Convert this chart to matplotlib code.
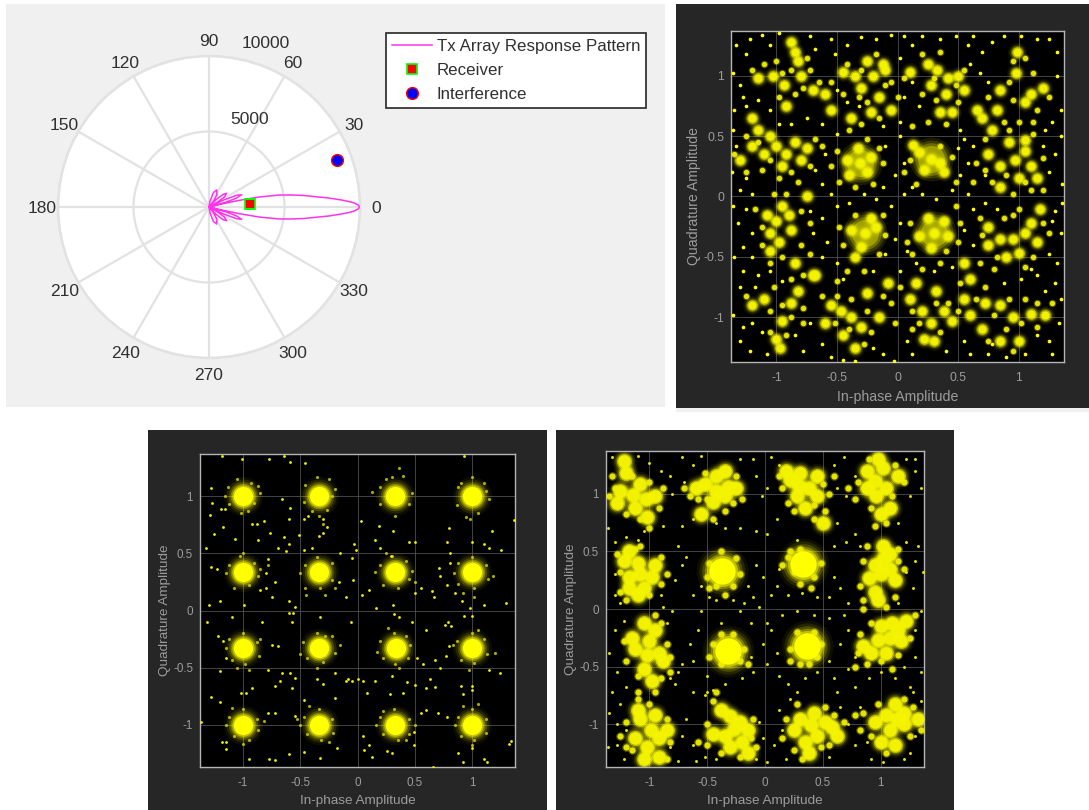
import numpy as np
import matplotlib
matplotlib.use("Agg")
import matplotlib.pyplot as plt
from matplotlib.patches import Rectangle

plt.rcParams['font.family'] = ['Liberation Sans', 'DejaVu Sans']

# ---------- polar pattern ----------
pattern_deg = [-95,-85,-80,-73,-65.6,-57,-52,-49,-46,-42,-37.8,-33,-30,-27.5,-25.5,-23,-20.5,-18,-16,-14.5,-13.5,-12.5,-11.3,-9.7,-8.3,-6.9,-5.5,-4.3,-3,-2.2,-1.5,-0.7,
               0,0.7,1.5,2.2,3,4.3,5.5,6.9,8.3,9.7,11.3,12.5,13.5,14.5,16,18,20.5,23,25.5,27.5,30,33,37.8,42,46,49,52,57,65.6,73,80,85,95]
pattern_val = [0,60,400,1000,1240,950,500,100,700,1250,1480,1200,700,100,1100,2000,2310,1900,1200,100,800,2000,3380,4700,5500,6340,7100,7950,8800,9300,9650,9900,
               9960,9900,9650,9300,8800,7950,7100,6340,5500,4700,3380,2000,800,100,1200,1900,2310,2000,1100,100,700,1200,1480,1250,700,100,500,950,1240,1000,400,60,0]
theta_ticks = [0,30,60,90,120,150,180,210,240,270,300,330]
r_ticks = [5000,10000]
receiver_deg, receiver_r = 4.0, 2740
interf_deg, interf_r = 20.0, 9030
legend_labels = ['Tx Array Response Pattern','Receiver','Interference']

# ---------- constellation ticks ----------
iq_ticks = [-1,-0.5,0,0.5,1]
iq_tick_labels = ['-1','-0.5','0','0.5','1']
x_title = 'In-phase Amplitude'
y_title = 'Quadrature Amplitude'

# ---------- panel A (top right): hand-read dense patches and single points ----------
a_bright = [(-0.31,0.28),(0.28,0.31),(-0.27,-0.30),(0.30,-0.30)]
a_patch = [(-0.31,0.28),(-0.40,0.18),(-0.22,0.33),(-0.33,0.40),(-0.42,0.30),(-0.25,0.20),
 (0.28,0.31),(0.18,0.37),(0.35,0.28),(0.22,0.22),(0.13,0.43),(0.38,0.20),
 (-0.27,-0.30),(-0.38,-0.28),(-0.18,-0.25),(-0.30,-0.42),(-0.22,-0.18),(-0.35,-0.50),
 (0.30,-0.30),(0.18,-0.33),(0.38,-0.20),(0.28,-0.43),(0.42,-0.33),(0.25,-0.18),
 (-1.15,0.98),(-1.03,1.0),(-0.94,0.92),(-0.85,1.2),(-0.82,1.12),(-0.92,0.75),(-0.8,1.0),(-0.7,0.88),(-0.6,0.85),(-0.88,1.28),
 (-0.45,1.03),(-0.35,1.0),(-0.25,1.12),(-0.2,1.0),(-0.12,1.1),(-0.3,0.9),(-0.15,0.82),(-0.05,0.72),(-0.22,0.7),(-0.1,1.05),(-0.38,0.65),(-0.55,0.72),
 (0.25,1.1),(0.33,1.05),(0.42,0.98),(0.5,1.0),(0.28,0.92),(0.4,0.85),(0.1,1.03),(0.45,0.7),(0.35,0.7),(0.55,0.88),
 (0.99,1.2),(0.98,1.02),(0.85,0.88),(1.1,0.85),(1.2,0.9),(0.7,0.65),(0.82,0.72),(1.05,0.78),(0.66,0.72),(0.78,0.55),
 (-1.2,0.42),(-1.1,0.35),(-1.0,0.42),(-0.92,0.35),(-0.85,0.45),(-0.8,0.3),(-0.95,0.25),(-1.05,0.5),(-0.75,0.4),(-1.3,0.3),(-1.15,0.55),(-1.2,0.65),
 (0.85,0.25),(0.97,0.3),(1.05,0.38),(1.1,0.25),(1.0,0.15),(0.85,0.08),(1.05,0.47),(0.92,0.45),(1.15,0.15),(0.75,0.35),
 (-1.08,-0.15),(-1.0,-0.2),(-1.05,-0.3),(-0.95,-0.08),(-0.88,-0.28),(-1.05,-0.45),(-0.98,-0.38),(-0.9,-0.15),(-0.75,0.0),(-0.85,-0.55),(-0.68,-0.65),
 (0.85,-0.35),(0.95,-0.35),(1.05,-0.3),(1.1,-0.22),(0.9,-0.5),(1.0,-0.47),(0.75,-0.4),(0.75,-0.25),(1.15,-0.38),(0.55,-0.55),(0.6,-0.68),(1.18,-0.1),
 (-1.2,-0.9),(-1.1,-0.85),(-0.88,-0.88),(-0.82,-0.78),(-0.95,-1.03),(-1.0,-1.18),(-0.97,-1.25),(-0.7,-0.65),
 (-0.55,-0.9),(-0.47,-0.95),(-0.38,-1.0),(-0.3,-1.08),(-0.45,-1.15),(-0.25,-0.8),(-0.15,-1.0),(-0.35,-1.25),(-0.08,-0.72),(-0.6,-1.05),
 (0.1,-0.85),(0.2,-0.95),(0.28,-1.05),(0.38,-0.95),(0.45,-1.03),(0.22,-1.18),(0.3,-1.2),(0.32,-0.78),(0.55,-0.85),(0.15,-0.72),
 (0.85,-0.9),(0.95,-1.0),(1.1,-0.97),(1.22,-0.98),(0.85,-1.2),(1.0,-1.2),(0.72,-0.88),(0.6,-0.98),(0.7,-1.1)]
a_mid = [(-1.2,1.05),(-1.1,1.1),(-1.0,1.12),(-0.95,1.02),(-0.88,1.05),(-0.75,1.15),(-0.85,0.85),(-0.78,0.9),(-0.98,0.82),(-0.72,1.05),(-0.65,0.95),(-0.55,0.95),
 (-0.42,1.1),(-0.3,1.05),(-0.18,1.18),(-0.05,0.95),(-0.32,0.82),(-0.1,0.92),(-0.45,0.85),(-0.25,0.78),(0.0,0.82),(-0.15,0.65),(-0.4,0.55),(-0.3,0.6),
 (0.2,1.18),(0.35,1.2),(0.3,0.98),(0.48,0.92),(0.2,0.85),(0.32,0.8),(0.5,0.78),(0.05,0.98),(0.55,1.05),(0.25,0.62),(0.4,0.6),(0.12,0.58),
 (0.95,1.12),(1.05,1.15),(0.92,0.95),(1.12,1.02),(0.95,0.8),(1.15,0.72),(1.25,0.82),(0.75,0.82),(0.88,0.62),(1.0,0.62),(0.72,0.48),(1.12,0.62),
 (-1.25,0.5),(-1.15,0.45),(-1.05,0.3),(-1.12,0.22),(-0.98,0.15),(-0.88,0.2),(-0.82,0.12),(-0.72,0.25),(-0.68,0.48),(-1.25,0.2),(-1.35,0.35),(-0.62,0.42),
 (-0.55,0.25),(-0.5,0.38),(-0.48,0.12),(-0.35,0.08),(-0.2,0.1),(-0.12,0.28),(-0.15,0.4),(-0.25,0.48),(0.1,0.3),(0.05,0.2),(0.15,0.1),(0.35,0.42),(0.45,0.33),(0.48,0.12),
 (0.72,0.22),(0.78,0.12),(0.9,0.18),(1.1,0.05),(1.05,0.12),(0.95,0.02),(1.2,0.32),(1.2,0.05),(0.92,0.55),(1.12,0.52),(0.62,0.12),(0.65,0.28),
 (-1.18,-0.1),(-1.12,-0.25),(-1.12,-0.4),(-1.05,-0.55),(-0.95,-0.5),(-0.8,-0.4),(-0.8,-0.12),(-0.72,-0.22),(-0.92,0.02),(-1.02,0.02),(-0.72,-0.48),(-0.78,-0.65),(-0.88,-0.68),
 (-0.48,-0.25),(-0.45,-0.4),(-0.1,-0.32),(-0.12,-0.15),(-0.28,-0.62),(-0.15,-0.48),(-0.42,-0.62),(-0.35,-0.15),(0.1,-0.22),(0.08,-0.38),(0.12,-0.48),(0.4,-0.45),(0.52,-0.22),(0.5,-0.38),(0.35,-0.55),(0.2,-0.6),(0.48,-0.08),
 (0.68,-0.18),(0.7,-0.32),(0.68,-0.55),(0.82,-0.5),(0.8,-0.6),(0.95,-0.15),(0.88,-0.18),(1.0,-0.1),(1.12,-0.5),(1.25,-0.3),(1.2,-0.22),(1.05,-0.58),
 (-1.25,-0.82),(-1.05,-0.95),(-0.95,-0.9),(-0.78,-0.92),(-0.88,-1.0),(-1.05,-1.12),(-0.92,-1.15),(-0.78,-1.05),(-1.02,-0.75),
 (-0.62,-0.82),(-0.5,-0.82),(-0.52,-1.05),(-0.38,-0.85),(-0.25,-0.95),(-0.4,-1.1),(-0.22,-1.12),(-0.28,-1.22),(-0.05,-0.88),(-0.02,-1.05),(-0.12,-0.82),(-0.5,-0.7),
 (0.02,-0.75),(0.18,-1.05),(0.12,-0.95),(0.32,-0.88),(0.42,-0.88),(0.35,-1.12),(0.12,-1.1),(0.5,-0.95),(0.52,-0.72),(0.65,-0.85),(0.72,-0.75),
 (0.8,-0.98),(0.92,-0.85),(1.05,-0.85),(1.02,-1.05),(1.15,-0.88),(0.9,-1.1),(0.75,-1.2),(1.15,-1.08),(1.28,-0.88),(0.95,-1.28)]
a_dots = [(-1.33,1.25),(-1.25,1.18),(-1.22,1.3),(-1.12,1.34),(-1.05,1.25),(-0.98,1.35),(-0.72,1.33),(-0.68,1.22),(-0.55,1.3),(-0.52,1.18),(-0.42,1.25),(-0.3,1.32),(-0.18,1.3),(-0.05,1.34),(0.05,1.33),(0.12,1.25),(0.2,1.33),(0.35,1.3),(0.48,1.33),(0.58,1.25),(0.62,1.33),(0.7,1.2),(0.78,1.28),(0.88,1.33),(1.02,1.33),(1.15,1.3),(1.25,1.3),(1.32,1.2),
 (-1.36,1.02),(-1.3,0.92),(-1.28,0.82),(-1.35,0.72),(-1.25,0.75),(-1.15,0.8),(-1.05,0.72),(-0.98,0.6),(-0.88,0.6),(-0.75,0.65),(-0.62,0.6),(-0.5,0.52),(-0.42,0.78),(-0.5,0.88),(-0.32,0.75),(-0.12,0.58),(0.02,0.62),(0.05,0.82),(0.18,0.75),(0.12,0.95),(0.02,1.15),(0.52,0.55),(0.6,1.1),(0.68,1.02),(0.75,0.95),(0.62,0.42),(0.55,0.48),(0.72,0.18),(1.32,1.0),(1.35,0.72),(1.28,0.62),(1.22,0.55),(1.35,0.5),(1.2,0.42),(1.3,0.35),(1.25,0.2),(1.36,0.1),
 (-1.36,0.55),(-1.33,0.42),(-1.37,0.2),(-1.25,0.15),(-1.3,0.05),(-1.2,0.02),(-1.36,-0.08),(-1.25,-0.1),(-1.32,-0.22),(-1.2,-0.3),(-1.28,-0.42),(-1.35,-0.5),(-1.2,-0.5),(-1.28,-0.62),(-1.15,-0.65),(-1.05,-0.62),(-0.95,-0.7),(-1.3,-0.75),(-1.18,-0.75),(-1.36,-0.98),(-1.28,-1.08),(-1.2,-1.05),(-1.3,-1.2),(-1.22,-1.28),(-1.12,-1.12),(-1.08,-1.3),(-0.85,-1.15),(-0.78,-1.28),(-0.72,-1.05),(-0.62,-1.22),(-0.55,-1.33),(-0.45,-1.35),(-0.35,-1.36),(-0.2,-1.25),(-0.12,-1.3),(-0.03,-1.36),(0.08,-1.2),(0.12,-1.3),(0.4,-1.28),(0.55,-1.2),(0.6,-1.3),(0.75,-1.3),(0.78,-1.22),(0.9,-1.33),(1.05,-1.3),(1.15,-1.15),(1.25,-1.2),(1.28,-1.3),(1.33,-1.05),(1.35,-0.85),(1.3,-0.72),(1.22,-0.78),(1.15,-0.65),(1.32,-0.55),(1.25,-0.48),(1.35,-0.3),(1.28,-0.2),(1.36,-0.05),(1.3,-0.12),
 (-0.6,0.35),(-0.68,0.22),(-0.62,0.1),(-0.55,0.02),(-0.5,-0.08),(-0.62,-0.18),(-0.7,-0.3),(-0.58,-0.38),(-0.5,-0.55),(-0.62,-0.5),(-0.45,-0.68),(-0.2,-0.62),(-0.1,-0.48),(-0.02,-0.35),(0.02,-0.22),(-0.05,-0.08),(0.05,0.02),(-0.12,0.08),(-0.02,0.18),(0.05,0.28),(-0.1,0.42),(0.02,0.5),(0.12,0.08),(0.2,0.02),(0.32,-0.02),(0.45,0.05),(0.52,0.18),(0.58,0.28),(0.5,0.4),(0.58,0.02),(0.62,-0.1),(0.55,-0.28),(0.62,-0.4),(0.45,-0.58),(0.3,-0.62),(0.15,-0.55),(0.02,-0.62),(0.08,-0.45),(-0.28,0.02),(-0.4,-0.05),(-0.18,-0.02),(-0.72,-0.12),(0.72,-0.05),(0.82,-0.1),(0.88,-0.72),(1.02,-0.68),(1.1,-0.6)]

# ---------- panel B (bottom left): cluster centres, halo points, strays ----------
b_core = [(-1.0,1.0),(-0.34,1.0),(0.33,1.0),(1.0,1.0),(-1.0,0.34),(-0.34,0.34),(0.33,0.34),(1.0,0.34),
 (-1.0,-0.33),(-0.34,-0.33),(0.34,-0.33),(1.0,-0.33),(-1.0,-1.0),(-0.34,-1.0),(0.33,-1.0),(1.0,-1.0)]
b_halo = [(-1.13,1.08),(-0.87,1.09),(-1.05,1.15),(-0.9,0.94),(-1.12,0.93),(-0.96,0.87),(-1.02,0.85),(-0.85,1.03),(-1.16,1.0),(-0.93,1.12),
 (-0.46,1.1),(-0.35,1.17),(-0.25,1.15),(-0.22,1.0),(-0.27,0.88),(-0.4,0.87),(-0.47,0.95),(-0.34,0.83),(-0.3,0.76),(-0.2,1.06),
 (0.2,1.08),(0.3,1.17),(0.4,1.18),(0.48,1.03),(0.45,0.93),(0.33,0.83),(0.2,0.93),(0.13,1.04),(0.36,1.25),(0.25,1.15),
 (0.88,1.08),(1.0,1.17),(1.12,1.05),(1.15,0.98),(1.05,0.85),(0.95,0.82),(0.87,0.92),(0.98,0.8),(0.9,1.12),(1.1,1.12),
 (-1.12,0.4),(-1.03,0.48),(-0.9,0.42),(-0.87,0.3),(-0.95,0.22),(-1.08,0.2),(-1.15,0.33),(-0.85,0.36),(-1.0,0.5),(-0.78,0.4),
 (-0.46,0.4),(-0.35,0.47),(-0.22,0.42),(-0.22,0.27),(-0.33,0.2),(-0.46,0.2),(-0.5,0.33),(-0.28,0.14),(-0.45,0.14),(-0.2,0.2),
 (0.2,0.4),(0.3,0.48),(0.42,0.43),(0.45,0.28),(0.35,0.2),(0.22,0.22),(0.15,0.34),(0.48,0.35),(0.25,0.5),(0.5,0.25),
 (0.88,0.42),(1.0,0.47),(1.12,0.4),(1.14,0.28),(1.02,0.2),(0.88,0.23),(0.84,0.33),(1.02,0.12),(0.92,0.15),(1.18,0.3),
 (-1.12,-0.25),(-1.0,-0.2),(-0.88,-0.28),(-0.86,-0.4),(-0.98,-0.47),(-1.1,-0.43),(-1.15,-0.33),(-0.95,-0.52),(-1.05,-0.5),(-0.85,-0.25),
 (-0.48,-0.28),(-0.35,-0.2),(-0.22,-0.22),(-0.2,-0.37),(-0.3,-0.45),(-0.44,-0.42),(-0.5,-0.38),(-0.15,-0.3),(-0.28,-0.22),(-0.35,-0.5),
 (0.2,-0.27),(0.32,-0.2),(0.46,-0.3),(0.44,-0.42),(0.33,-0.47),(0.22,-0.42),(0.17,-0.36),(0.36,-0.5),(0.42,-0.22),(0.27,-0.15),
 (0.87,-0.27),(1.0,-0.2),(1.1,-0.25),(1.13,-0.38),(1.02,-0.46),(0.9,-0.43),(0.83,-0.3),(0.97,-0.52),(1.2,-0.37),(1.05,-0.17),
 (-1.12,-0.93),(-1.0,-0.86),(-0.88,-0.95),(-0.87,-1.05),(-0.95,-1.13),(-1.08,-1.1),(-1.15,-1.0),(-1.1,-0.85),(-1.0,-1.17),(-0.82,-0.97),
 (-0.47,-0.93),(-0.34,-0.86),(-0.22,-0.95),(-0.21,-1.07),(-0.32,-1.13),(-0.44,-1.08),(-0.5,-1.0),(-0.42,-0.84),(-0.25,-1.15),(-0.53,-0.95),
 (0.2,-0.93),(0.32,-0.86),(0.45,-0.95),(0.45,-1.08),(0.35,-1.13),(0.22,-1.08),(0.16,-1.0),(0.22,-0.88),(0.42,-1.13),(0.5,-1.0),
 (0.88,-0.93),(1.0,-0.86),(1.12,-0.95),(1.12,-1.07),(1.02,-1.13),(0.9,-1.1),(0.85,-1.0),(0.92,-0.84),(1.05,-0.82),(1.0,-1.18)]
b_stray = [(-1.18,1.35),(-1.01,1.33),(-0.77,1.33),(-0.64,1.35),(-0.59,1.30),(-0.46,1.29),(0.93,1.35),(-1.28,1.07),(-1.27,0.94),(-1.29,0.84),(-1.19,0.89),(-1.16,0.89),(-1.17,0.73),(-1.25,0.67),(-1.07,0.63),
 (-0.92,0.76),(-0.88,0.76),(-0.87,0.62),(-0.82,0.78),(-0.76,0.68),(-0.69,0.55),(-0.64,0.64),(-0.6,0.58),(-0.62,0.52),(-0.51,0.66),(-0.34,0.65),(-0.3,0.68),(-0.27,0.73),(-0.3,0.8),(-0.47,0.8),(-0.43,0.83),(-0.59,0.9),(-0.66,0.98),
 (-0.6,0.8),(-1.32,0.55),(-1.28,0.38),(-1.23,0.36),(-0.78,0.45),(-0.8,0.33),(-0.72,0.25),(-0.85,0.18),(-0.8,0.2),(-0.75,0.12),(-1.2,0.08),(-1.3,0.05),(-0.99,0.05),(-0.6,0.08),(-0.55,0.03),(-0.6,-0.02),(-0.56,-0.02),
 (-0.47,0.53),(-0.4,0.55),(-0.15,0.5),(-0.05,0.46),(-0.01,0.53),(-0.03,0.58),(0.15,0.62),(0.2,0.55),(0.29,0.48),(0.45,0.6),(0.5,0.6),(0.31,0.7),(0.19,0.74),(0.03,0.78),(-0.16,0.25),(-0.1,0.12),(-0.04,0.27),(0.04,0.14),(0.1,0.18),(0.16,0.02),(0.31,0.05),(0.55,0.2),(0.5,0.15),(0.65,0.17),
 (0.67,0.12),(0.78,0.6),(0.8,0.72),(0.81,0.5),(0.81,0.42),(0.71,0.37),(0.72,0.3),(0.78,0.22),(0.85,0.15),(0.91,0.08),(1.0,0.6),(1.1,0.58),(1.15,0.55),(1.17,0.7),(1.25,0.53),(1.37,0.79),(1.3,0.07),(1.1,0.05),(0.98,0.02),(1.0,-0.05),(0.93,-0.05),(0.79,-0.1),(0.76,-0.13),(0.82,-0.14),
 (-1.31,-0.1),(-1.1,-0.06),(-1.22,-0.22),(-1.17,-0.27),(-1.15,-0.42),(-1.2,-0.53),(-0.83,-0.1),(-0.75,-0.3),(-0.69,-0.31),(-0.78,-0.52),(-0.66,-0.55),(-0.59,-0.55),(-0.55,-0.59),(-0.68,-0.62),(-0.72,-0.66),(-0.57,-0.68),(-0.47,-0.78),(-0.35,-0.6),(-0.3,-0.64),(-0.2,-0.55),(-0.1,-0.62),
 (-0.05,-0.62),(-0.08,-0.6),(0.0,-0.6),(0.05,-0.62),(-0.06,-0.1),(-0.57,-0.1),(-0.33,-0.06),(0.32,-0.03),(0.36,-0.06),(0.48,-0.1),(0.6,-0.17),(0.52,-0.42),(0.57,-0.47),(0.68,-0.43),(0.72,-0.5),(0.77,-0.4),(0.8,-0.31),(1.15,-0.52),(1.24,-0.55),
 (0.63,-0.6),(0.68,-0.67),(0.6,-0.68),(0.5,-0.65),(0.43,-0.63),(0.3,-0.57),(0.15,-0.62),(0.08,-0.72),(0.28,-0.73),(0.4,-0.72),(0.9,-0.66),(0.92,-0.73),(1.0,-0.66),(1.0,-0.7),
 (-1.37,-0.98),(-1.28,-0.76),(-1.2,-0.8),(-1.18,-1.15),(-1.15,-1.15),(-1.15,-1.21),(-1.02,-0.72),(-0.97,-0.72),(-0.92,-0.68),(-0.72,-0.9),(-0.78,-0.9),(-0.95,-1.3),(-0.77,-1.3),(-0.72,-1.31),(-0.6,-1.26),(-0.47,-1.24),(-0.33,-1.29),(-0.55,-0.92),(-0.2,-0.77),(-0.18,-1.2),
 (0.05,-1.1),(0.06,-1.22),(0.1,-1.18),(0.13,-1.28),(0.26,-1.23),(0.3,-1.25),(0.49,-1.18),(0.49,-1.06),(0.55,-0.9),(0.6,-0.87),(0.7,-0.9),(0.78,-0.93),(0.66,-1.37),(1.0,-1.2),(0.88,-1.25),(0.92,-1.33),(1.1,-1.3),(1.13,-1.33),(1.34,-1.14),(1.32,-1.17)]

# ---------- panel C (bottom right): dense patches and single points ----------
c_core = [(-0.37,0.33),(0.33,0.39),(-0.32,-0.36),(0.36,-0.32)]
c_patch = [(-1.14,0.99),(-1.25,1.02),(-1.03,0.95),(-1.08,1.08),(-1.2,1.18),(-1.12,0.88),(-1.28,0.92),(-0.95,0.98),(-1.22,1.28),(-1.02,0.8),
 (-0.42,1.02),(-0.52,1.08),(-0.35,0.98),(-0.42,1.15),(-0.35,1.2),(-0.45,0.93),(-0.6,1.05),(-0.32,1.06),(-0.55,0.82),(-0.25,1.05),
 (0.29,1.07),(0.22,1.12),(0.28,0.98),(0.38,1.05),(0.3,1.18),(0.18,1.2),(0.45,0.98),(0.35,0.88),(0.45,1.15),(0.5,0.75),
 (0.95,1.11),(0.88,1.2),(1.02,1.22),(0.96,0.98),(1.05,1.05),(1.08,0.88),(0.98,1.3),(0.88,1.05),(1.15,1.15),(1.0,0.82),
 (-1.08,0.30),(-1.18,0.28),(-0.98,0.28),(-1.1,0.4),(-1.18,0.18),(-1.05,0.18),(-0.95,0.38),(-1.22,0.42),(-1.1,0.12),(-1.18,0.5),
 (1.02,0.43),(0.95,0.38),(1.08,0.48),(1.0,0.3),(0.9,0.27),(1.08,0.35),(1.02,0.55),(0.95,0.15),(1.12,0.25),(0.98,0.08),
 (-1.02,-0.40),(-1.12,-0.35),(-0.92,-0.38),(-1.0,-0.28),(-1.05,-0.52),(-0.98,-0.62),(-1.15,-0.25),(-0.95,-0.18),(-0.88,-0.45),(-1.05,-0.12),
 (1.08,-0.25),(0.98,-0.27),(1.15,-0.18),(1.05,-0.38),(0.92,-0.38),(1.22,-0.1),(1.1,-0.12),(1.0,-0.15),(1.18,-0.28),(0.85,-0.32),
 (-0.99,-1.05),(-1.08,-0.95),(-0.95,-0.92),(-0.92,-1.12),(-1.02,-1.2),(-1.05,-1.3),(-1.12,-1.12),(-0.85,-1.05),(-1.1,-0.88),(-0.92,-1.28),
 (-0.27,-1.04),(-0.35,-1.1),(-0.22,-0.98),(-0.3,-0.93),(-0.2,-1.15),(-0.3,-1.2),(-0.45,-1.08),(-0.15,-1.05),(-0.15,-1.25),(-0.38,-0.88),
 (0.40,-1.01),(0.3,-0.95),(0.45,-1.1),(0.52,-0.98),(0.35,-1.15),(0.42,-0.9),(0.58,-1.02),(0.25,-1.05),(0.38,-1.25),(0.62,-1.1),
 (1.14,-0.95),(1.05,-0.92),(0.95,-0.98),(1.2,-1.0),(1.08,-1.05),(1.2,-0.9),(1.0,-1.15),(1.12,-0.82),(1.32,-0.95),(1.12,-1.18)]
c_mid = [(-1.32,1.15),(-1.3,1.05),(-1.15,1.15),(-1.0,1.1),(-0.88,1.05),(-1.35,0.98),(-1.2,0.82),(-1.08,0.78),(-0.92,0.88),(-1.0,0.7),
 (-0.58,0.95),(-0.65,0.98),(-0.5,0.95),(-0.28,0.92),(-0.25,1.15),(-0.35,0.85),(-0.45,0.78),(-0.52,1.18),(-0.2,0.95),(-0.7,1.05),
 (0.15,1.05),(0.12,1.15),(0.2,0.92),(0.42,0.9),(0.5,1.08),(0.55,1.0),(0.42,0.78),(0.52,0.85),(0.6,1.15),(0.25,0.85),
 (0.8,1.1),(0.78,0.95),(0.92,0.88),(1.1,0.98),(1.12,1.25),(1.2,1.1),(0.9,1.3),(1.05,0.75),(0.95,0.72),(0.72,1.05),
 (-1.25,0.32),(-1.28,0.48),(-1.25,0.15),(-0.9,0.22),(-0.85,0.3),(-1.0,0.12),(-1.12,0.52),(-1.08,0.55),(-0.9,0.45),(-1.2,0.08),
 (-0.48,0.4),(-0.5,0.28),(-0.42,0.2),(-0.28,0.2),(-0.22,0.3),(-0.25,0.44),(-0.38,0.5),(-0.48,0.18),(-0.35,0.12),
 (0.2,0.45),(0.25,0.32),(0.22,0.5),(0.42,0.28),(0.48,0.4),(0.3,0.22),(0.4,0.18),(0.15,0.38),(0.3,0.52),
 (0.85,0.42),(0.82,0.2),(0.85,0.08),(1.15,0.42),(1.2,0.35),(1.12,0.1),(0.88,0.55),(1.15,0.52),(0.85,0.0),(1.05,0.02),
 (-1.2,-0.45),(-1.22,-0.28),(-0.85,-0.3),(-0.82,-0.42),(-0.9,-0.6),(-1.1,-0.58),(-0.82,-0.55),(-0.9,-0.12),(-0.95,-0.05),(-1.1,-0.72),
 (-0.45,-0.3),(-0.48,-0.42),(-0.38,-0.48),(-0.22,-0.45),(-0.18,-0.35),(-0.28,-0.22),(-0.38,-0.22),(-0.15,-0.48),
 (0.22,-0.35),(0.28,-0.2),(0.42,-0.2),(0.48,-0.3),(0.45,-0.42),(0.3,-0.48),(0.38,-0.48),(0.22,-0.45),
 (0.82,-0.22),(0.8,-0.38),(0.88,-0.48),(1.0,-0.45),(1.15,-0.4),(1.25,-0.25),(1.3,-0.05),(0.92,-0.12),(0.78,-0.5),(1.1,-0.52),
 (-1.25,-1.1),(-1.2,-0.98),(-1.0,-0.82),(-0.85,-0.95),(-0.82,-1.15),(-1.15,-1.22),(-1.1,-0.78),(-0.95,-0.72),(-1.2,-1.2),(-0.85,-1.3),
 (-0.5,-1.0),(-0.5,-1.18),(-0.38,-1.25),(-0.45,-0.8),(-0.1,-0.95),(-0.12,-1.12),(-0.22,-1.28),(-0.08,-1.2),(-0.42,-0.72),(-0.58,-1.15),
 (0.18,-0.95),(0.15,-1.12),(0.28,-0.82),(0.52,-0.85),(0.6,-0.92),(0.68,-0.98),(0.48,-1.2),(0.25,-1.22),(0.55,-1.18),(0.32,-1.3),
 (0.85,-0.9),(0.82,-1.05),(0.92,-1.1),(0.98,-0.82),(1.28,-0.85),(1.35,-1.05),(1.25,-1.1),(1.05,-1.25),(1.2,-0.78),(0.78,-0.92)]
c_dots = [(-1.32,1.32),(-1.1,1.33),(-1.0,1.27),(-0.9,1.2),(-0.82,1.15),(-0.8,1.0),(-0.72,1.32),(-0.62,1.25),(-0.55,1.33),(-0.7,1.1),(-0.22,1.3),(-0.1,1.3),(-0.08,1.15),(-0.03,0.98),(0.02,1.05),(0.05,1.32),(0.12,1.25),(0.6,1.25),(0.62,1.05),(0.68,1.32),(0.7,0.98),(0.78,1.15),(1.22,1.3),(1.3,1.2),(1.35,1.05),(1.3,1.3),(1.25,0.98),(1.15,0.75),
 (-1.36,0.7),(-1.3,0.58),(-1.2,0.62),(-1.1,0.6),(-1.05,0.68),(-0.88,0.72),(-0.72,0.72),(-0.62,0.78),(-0.42,0.75),(-0.35,0.7),(-0.22,0.7),(-0.08,0.68),(0.02,0.65),(0.1,0.78),(0.28,0.6),(0.48,0.7),(0.62,0.75),(0.6,0.55),(0.7,0.58),(0.78,0.65),(0.82,0.55),(1.22,0.58),(1.32,0.55),(1.3,0.42),(1.37,0.32),(1.22,0.32),(1.28,0.18),(1.15,0.05),
 (-1.3,0.3),(-1.3,0.12),(-1.25,0.05),(-0.9,0.12),(-0.88,0.02),(-0.8,-0.02),(-0.85,-0.12),(-0.78,0.25),(-0.72,0.38),(-0.68,0.45),(-0.75,0.55),(-0.62,0.12),(-0.55,0.2),(-0.48,0.1),(-0.55,-0.02),(-0.42,0.08),(-0.28,0.08),(-0.18,0.05),(-0.1,0.1),(-0.05,0.02),(-0.15,0.2),(-0.08,0.38),(-0.02,0.28),(0.05,0.12),(0.1,0.2),(0.12,0.35),(0.2,0.12),(0.32,0.14),(0.45,0.1),(0.55,0.1),(0.6,0.28),(0.65,0.18),(0.72,0.05),(0.68,-0.05),(0.55,-0.08),(0.42,-0.05),(0.28,-0.02),(0.15,-0.05),(0.02,-0.12),(-0.12,-0.12),(-0.22,-0.02),(-0.38,-0.12),
 (-1.3,-0.18),(-1.22,-0.1),(-1.35,-0.38),(-1.28,-0.55),(-1.32,-0.72),(-1.25,-0.82),(-1.2,-0.68),(-0.82,-0.6),(-0.78,-0.65),(-0.75,-0.55),(-0.72,-0.48),(-0.65,-0.3),(-0.62,-0.45),(-0.58,-0.18),(-0.5,-0.58),(-0.62,-0.72),(-0.52,-0.75),(-0.45,-0.7),(-0.35,-0.65),(-0.2,-0.6),(-0.1,-0.55),(-0.12,-0.42),(-0.02,-0.3),(0.05,-0.18),(0.02,-0.48),(0.1,-0.38),(0.12,-0.58),(0.2,-0.65),(0.28,-0.72),(0.35,-0.6),(0.45,-0.55),(0.55,-0.45),(0.6,-0.6),(0.65,-0.3),(0.72,-0.18),(0.78,-0.42),(0.72,-0.52),(0.62,-0.72),(0.78,-0.68),(0.9,-0.6),(1.0,-0.55),(1.12,-0.6),(1.2,-0.5),(1.3,-0.42),(1.35,-0.55),(1.25,-0.68),(1.3,-0.18),(1.35,-0.02),
 (-1.35,-0.9),(-1.28,-1.0),(-1.36,-1.2),(-1.28,-1.18),(-1.2,-1.05),(-1.22,-1.3),(-0.82,-1.2),(-0.75,-1.32),(-0.72,-1.1),(-0.68,-0.95),(-0.62,-1.18),(-0.6,-1.32),(-0.52,-1.28),(-0.5,-0.72),(-0.42,-1.3),(-0.05,-0.98),(-0.02,-1.12),(-0.08,-1.3),(0.02,-1.33),(0.08,-1.18),(0.12,-0.88),(0.18,-1.3),(0.15,-1.05),(0.22,-0.78),(0.55,-1.28),(0.65,-0.85),(0.72,-1.0),(0.78,-1.18),(0.82,-0.85),(0.88,-1.15),(0.92,-1.3),(1.02,-1.33),(1.25,-1.25),(1.2,-1.3),(1.3,-1.1),(1.35,-0.8),(1.28,-0.72)]

FIG_W, FIG_H = 1089, 810
DARK = '#262626'
TXT = '#9c9c9c'
INK = '#303030'
YEL = '#ffff00'

fig = plt.figure(figsize=(FIG_W/100, FIG_H/100), dpi=100, facecolor='white')

def frac_rect(l, t, r, b):
    return [l/FIG_W, 1-b/FIG_H, (r-l)/FIG_W, (b-t)/FIG_H]

def panel_bg(l, t, r, b, colour):
    x, y, w, h = frac_rect(l, t, r, b)
    fig.add_artist(Rectangle((x, y), w, h, transform=fig.transFigure, facecolor=colour, edgecolor='none', zorder=-5))

panel_bg(6, 4, 665, 407, '#f0f0f0')
panel_bg(676, 4, 1089, 408, DARK)
panel_bg(676, 408, 1089, 412, '#f0f0f0')
panel_bg(148, 430, 547, 810, DARK)
panel_bg(556, 430, 954, 810, DARK)

# ---------- polar ----------
ax = fig.add_axes(frac_rect(58, 56, 360, 358), projection='polar', facecolor='white')
ax.set_rlim(0, 10000)
ax.set_thetagrids(theta_ticks, [str(t) for t in theta_ticks], fontsize=12.5, color=INK)
ax.set_rticks(r_ticks)
ax.set_yticklabels([])
ax.grid(True, color='#e2e2e2', lw=1.6)
ax.spines['polar'].set_color('#e2e2e2')
ax.spines['polar'].set_linewidth(1.8)
ax.tick_params(axis='x', pad=1)
for lab in ax.get_xticklabels():
    lab.set_verticalalignment('center_baseline')
l1, = ax.plot(np.deg2rad(pattern_deg), pattern_val, color='#ff33ee', lw=1.1, zorder=3)
l2, = ax.plot(np.deg2rad(receiver_deg), receiver_r, ls='none', marker='s', ms=7, mfc='#ff0000', mec='#00ff00', mew=1.2, zorder=4)
l3, = ax.plot(np.deg2rad(interf_deg), interf_r, ls='none', marker='o', ms=8.5, mfc='#0000ff', mec='#ff0000', mew=1.0, zorder=4, clip_on=False)
ax.annotate(str(r_ticks[0]), xy=(250/FIG_W, 1-118/FIG_H), xycoords='figure fraction', ha='center', va='center_baseline', fontsize=12.5, color=INK)
ax.annotate(str(r_ticks[1]), xy=(266/FIG_W, 1-42/FIG_H), xycoords='figure fraction', ha='center', va='center_baseline', fontsize=12.5, color=INK)
leg = ax.legend([l1, l2, l3], legend_labels, loc='upper left', bbox_to_anchor=(386/FIG_W, 1-33/FIG_H),
                bbox_transform=fig.transFigure, borderaxespad=0, fontsize=12.2, fancybox=False, framealpha=1,
                edgecolor='#262626', handlelength=2.35, handletextpad=0.3, labelspacing=0.54, borderpad=0.34)
leg.get_frame().set_linewidth(1.2)
for t in leg.get_texts():
    t.set_color(INK)

# ---------- constellations ----------
def iq_axes(box, fs_tick, fs_lab):
    a = fig.add_axes(frac_rect(*box), facecolor='black')
    a.set_xlim(-1.375, 1.375)
    a.set_ylim(-1.37, 1.37)
    a.set_xticks(iq_ticks, iq_tick_labels)
    a.set_yticks(iq_ticks, iq_tick_labels)
    a.grid(True, color='#5a5a5a', lw=0.7, alpha=0.75, zorder=0)
    a.set_axisbelow(True)
    a.tick_params(colors=TXT, labelsize=fs_tick, length=0)
    a.tick_params(axis='x', pad=7)
    a.tick_params(axis='y', pad=5)
    a.set_xlabel(x_title, fontsize=fs_lab, color=TXT, labelpad=4.5)
    a.set_ylabel(y_title, fontsize=fs_lab, color=TXT, labelpad=1.8)
    for s in a.spines.values():
        s.set_color('#b5b5b5')
        s.set_linewidth(1.0)
    return a

def xs(points):
    return [p[0] for p in points]

def ys(points):
    return [p[1] for p in points]

def soft(a, points, sizes, alphas, colour=YEL, z=2):
    for s, al in zip(sizes, alphas):
        a.scatter(xs(points), ys(points), s=s, c=colour, alpha=al, linewidths=0, zorder=z)

# panel A
a1 = iq_axes((731, 31, 1064, 362), 8.7, 10.2)
soft(a1, a_patch, [190, 130, 90, 60], [0.06, 0.12, 0.25, 0.55])
soft(a1, a_bright, [1000, 750, 550, 380], [0.1, 0.15, 0.25, 0.35])
soft(a1, a_patch, [32], [0.95], '#f5f500', 3)
soft(a1, a_mid, [30, 15], [0.3, 0.95], '#eeee00', 3)
a1.scatter(xs(a_dots), ys(a_dots), s=7, c=YEL, linewidths=0, zorder=4)

# panel B
a2 = iq_axes((200, 454, 515, 767), 8.4, 9.7)
soft(a2, b_core, [800, 600, 450, 340, 260], [0.05, 0.1, 0.18, 0.3, 0.5])
soft(a2, b_core, [190], [1.0], YEL, 3)
a2.scatter(xs(b_halo), ys(b_halo), s=5, c='#d8d800', alpha=0.8, linewidths=0, zorder=3)
a2.scatter(xs(b_stray), ys(b_stray), s=4, c='#f2f200', linewidths=0, zorder=4)

# panel C
a3 = iq_axes((606, 451, 924, 767), 8.4, 9.7)
soft(a3, c_patch, [340, 240, 170, 120], [0.06, 0.12, 0.25, 0.55])
soft(a3, c_patch, [80], [0.95], '#f5f500', 3)
soft(a3, c_mid, [40, 20], [0.3, 0.95], '#eeee00', 3)
soft(a3, c_core, [1400, 1100, 850, 650, 500], [0.06, 0.1, 0.18, 0.3, 0.5])
soft(a3, c_core, [360], [1.0], YEL, 3)
a3.scatter(xs(c_dots), ys(c_dots), s=4.5, c='#e6e600', linewidths=0, zorder=4)

fig.savefig('out.png', dpi=100)
